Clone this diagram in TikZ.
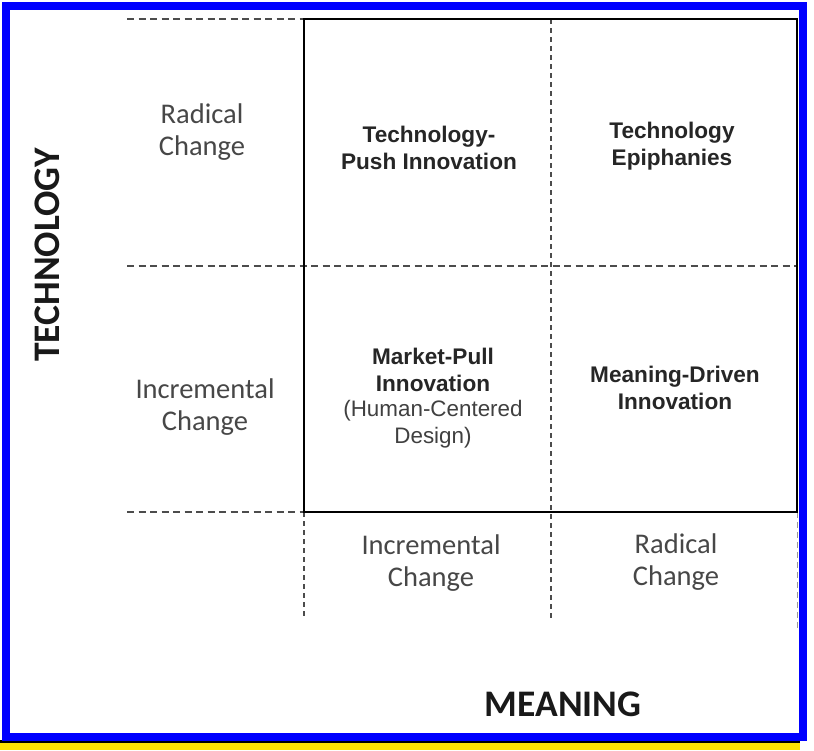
\documentclass[tikz,border=0pt]{standalone}
\usepackage{fontspec}
\setmainfont{Liberation Sans}
\newfontfamily\carlito{Carlito}
\begin{document}
\begin{tikzpicture}[x=1pt,y=-1pt,
  grid/.style={draw=black!70, line width=1.8pt, dash pattern=on 7pt off 4.5pt},
  vgrid/.style={draw=black!70, line width=1.8pt, dash pattern=on 5pt off 4pt},
  side/.style={font=\carlito\fontsize{28.5}{32.5}\selectfont, text=black!72, align=center, inner sep=0pt},
  axis/.style={font=\carlito\bfseries\fontsize{37.5}{40}\selectfont, text=black!90, inner sep=0pt},
  quad/.style={font=\bfseries\fontsize{22.6}{27}\selectfont, text=black!85, align=center, inner sep=0pt},
  quadr/.style={font=\fontsize{22.4}{27}\selectfont, text=black!75, align=center, inner sep=0pt}]
\useasboundingbox (0,0) rectangle (814,750);
\fill[white] (0,0) rectangle (814,750);
% frame
\fill[yellow!85!orange] (0,743) rectangle (800,750);
\fill[black] (0,740) rectangle (800,743);
\draw[blue, line width=7.5pt] (6,6) rectangle (803,737);
% coordinates
\coordinate (tl) at (304,19);
\coordinate (br) at (797,512);
\coordinate (lt) at (127,19);
\coordinate (lm) at (127,266);
\coordinate (lb) at (127,512);
\coordinate (rm) at (797,266);
\coordinate (mt) at (551,19);
\coordinate (mb) at (551,618);
\coordinate (lbot) at (304,618);
\coordinate (lbx) at (304,512);
\coordinate (rbot) at (797,630);
% dashed grid
\draw[grid] (lt) -- (tl);
\draw[grid] (lm) -- (rm);
\draw[grid] (lb) -- (lbx);
\draw[vgrid] (mt) -- (mb);
\draw[vgrid] (lbx) -- (lbot);
\draw[draw=black!40, line width=1pt, dash pattern=on 6pt off 4pt] (br) -- (rbot);
% main box
\draw[black, line width=2.6pt] (tl) rectangle (br);
% side labels
\node[side] (rl) at (202,132) {Radical\\Change};
\node[side] (il) at (205,407) {Incremental\\Change};
\node[side] (ib) at (431,563) {Incremental\\Change};
\node[side] (rb) at (676,562) {Radical\\Change};
\node[axis, rotate=90] (tech) at (47,255) {TECHNOLOGY};
\node[axis] (mean) at (563,704) {MEANING};
% quadrant texts
\node[quad] (tpi) at (429,148) {Technology-\\Push Innovation};
\node[quad] (te) at (672,146) {Technology\\Epiphanies};
\node[quad] (mpi) at (433,370) {Market-Pull\\Innovation};
\node[quadr] (hcd) at (433,424) {(Human-Centered\\Design)};
\node[quad] (mdi) at (675,388) {Meaning-Driven\\Innovation};
\end{tikzpicture}
\end{document}
